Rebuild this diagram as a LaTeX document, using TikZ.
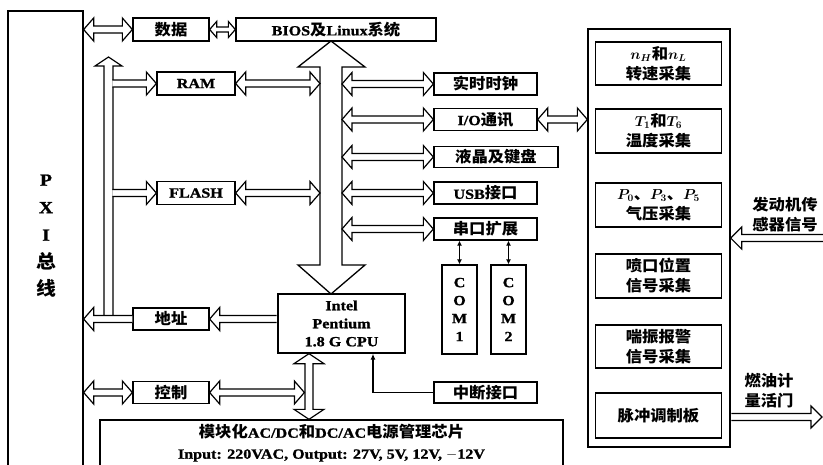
\documentclass[tikz,border=0pt]{standalone}
\usepackage{fontspec}
\setmainfont{Liberation Serif}[FakeStretch=1.15, BoldFeatures={FakeBold=1.2}]
\newfontfamily\cjk{Noto Sans CJK SC}[Scale=1.1, FakeStretch=1.06]
\usetikzlibrary{arrows.meta,calc}
\newcommand\zh[1]{{\cjk #1}}
\begin{document}
\begin{tikzpicture}[x=1pt,y=-1pt,
  every node/.style={font=\bfseries\boldmath\fontsize{14}{16}\selectfont},
  box/.style={draw, line width=1.3pt, inner sep=0pt, align=center, fill=white},
  ahl/.store in=\ahl, ahw/.store in=\ahw, asw/.store in=\asw,
  ahl=10pt, ahw=11.5pt, asw=3.5pt,
  sarr/.style={draw, line width=1.2pt, fill=white, line join=miter, to path={
    ($(\tikztostart)!\asw!90:(\tikztotarget)$)
    -- ($(\tikztotarget)!\ahl!(\tikztostart)!\asw!90:(\tikztotarget)$)
    -- ($(\tikztotarget)!\ahl!(\tikztostart)!\ahw!90:(\tikztotarget)$)
    -- (\tikztotarget)
    -- ($(\tikztotarget)!\ahl!(\tikztostart)!\ahw!-90:(\tikztotarget)$)
    -- ($(\tikztotarget)!\ahl!(\tikztostart)!\asw!-90:(\tikztotarget)$)
    -- ($(\tikztostart)!\asw!-90:(\tikztotarget)$)}},
  darr/.style={draw, line width=1.2pt, fill=white, line join=miter, to path={
    (\tikztostart)
    -- ($(\tikztostart)!\ahl!(\tikztotarget)!\ahw!90:(\tikztotarget)$)
    -- ($(\tikztostart)!\ahl!(\tikztotarget)!\asw!90:(\tikztotarget)$)
    -- ($(\tikztotarget)!\ahl!(\tikztostart)!\asw!90:(\tikztotarget)$)
    -- ($(\tikztotarget)!\ahl!(\tikztostart)!\ahw!90:(\tikztotarget)$)
    -- (\tikztotarget)
    -- ($(\tikztotarget)!\ahl!(\tikztostart)!\ahw!-90:(\tikztotarget)$)
    -- ($(\tikztotarget)!\ahl!(\tikztostart)!\asw!-90:(\tikztotarget)$)
    -- ($(\tikztostart)!\ahl!(\tikztotarget)!\asw!-90:(\tikztotarget)$)
    -- ($(\tikztostart)!\ahl!(\tikztotarget)!\ahw!-90:(\tikztotarget)$)
    -- cycle}},
  thinarr/.style={line width=1.2pt},
  bigarr/.style={draw, line width=1.3pt, fill=white, line join=miter}
]
\useasboundingbox[fill=white] (0,0) rectangle (823,464);

% PXI bus
\node[box, minimum width=75pt, minimum height=460pt] (pxi) at (45.5,241) {};
\node[align=center, font=\bfseries\fontsize{17}{27.5}\selectfont] (pxit) at (46,236) {P\\X\\I\\\zh{总}\\\zh{线}};

% left boxes
\node[box, minimum width=76pt, minimum height=23pt] (data) at (171,29.5) {\zh{数据}};
\node[box, minimum width=200pt, minimum height=23pt] (bios) at (336,29.5) {BIOS\zh{及}Linux\zh{系统}};
\node[box, minimum width=78pt, minimum height=23pt] (ram) at (196,83.5) {RAM};
\node[box, minimum width=78pt, minimum height=23pt] (flash) at (196,193) {FLASH};
\node[box, minimum width=76pt, minimum height=22pt] (addr) at (171,319) {\zh{地址}};
\node[box, minimum width=76pt, minimum height=22pt] (ctrl) at (171,392.5) {\zh{控制}};
\node[box, minimum width=127pt, minimum height=59pt, font=\bfseries\fontsize{14}{18}\selectfont] (cpu) at (341.5,323.5) {Intel\\Pentium\\1.8 G CPU};
\node[box, minimum width=463pt, minimum height=46pt, font=\bfseries\fontsize{14}{21}\selectfont] (power) at (331.5,443) {\zh{模块化}AC/DC\zh{和}DC/AC\zh{电源管理芯片}\\Input: 220VAC, Output: 27V, 5V, 12V, $-$12V};

% right column
\node[box, minimum width=103pt, minimum height=22pt] (rtc) at (485.5,84) {\zh{实时时钟}};
\node[box, minimum width=103pt, minimum height=22pt] (io) at (485.5,119.5) {I/O\zh{通讯}};
\node[box, minimum width=124pt, minimum height=21pt] (lcd) at (496,157) {\zh{液晶及键盘}};
\node[box, minimum width=103pt, minimum height=22pt] (usb) at (485.5,193) {USB\zh{接口}};
\node[box, minimum width=103pt, minimum height=22pt] (serial) at (485.5,229) {\zh{串口扩展}};
\node[box, minimum width=35pt, minimum height=89pt, font=\bfseries\fontsize{14}{18}\selectfont] (com1) at (459.5,309.5) {C\\O\\M\\1};
\node[box, minimum width=35pt, minimum height=89pt, font=\bfseries\fontsize{14}{18}\selectfont] (com2) at (508.5,309.5) {C\\O\\M\\2};
\node[box, minimum width=103pt, minimum height=21pt] (irq) at (485.5,392.5) {\zh{中断接口}};

% right panel
\node[box, minimum width=142pt, minimum height=418pt] (panel) at (659,238) {};
\begin{scope}[every node/.append style={font=\bfseries\boldmath\fontsize{14}{20}\selectfont}]
\node[box, minimum width=126pt, minimum height=43pt] (s1) at (658.5,63.5) {$n_H$\zh{和}$n_L$\\\zh{转速采集}};
\node[box, minimum width=126pt, minimum height=44pt] (s2) at (658.5,131) {$T_1$\zh{和}$T_6$\\\zh{温度采集}};
\node[box, minimum width=126pt, minimum height=44pt] (s3) at (658.5,205) {$P_0$\zh{、}$P_3$\zh{、}$P_5$\\\zh{气压采集}};
\node[box, minimum width=126pt, minimum height=44pt] (s4) at (658.5,276) {\zh{喷口位置}\\\zh{信号采集}};
\node[box, minimum width=126pt, minimum height=43pt] (s5) at (658.5,346.5) {\zh{喘振报警}\\\zh{信号采集}};
\node[box, minimum width=126pt, minimum height=45pt] (s6) at (658.5,415.5) {\zh{脉冲调制板}};
\node[align=center] (sent) at (785,215) {\zh{发动机传}\\\zh{感器信号}};
\node[align=center] (fuelt) at (769,391) {\zh{燃油计}\\\zh{量活门}};
\end{scope}

% helper coordinates
\coordinate (busx) at (112.4,0);
\coordinate (bal) at (320,0);
\coordinate (bar) at (342,0);
\coordinate (pv) at (309,0);
\coordinate (pvl) at (304.4,0);
\coordinate (sen) at (826,238);
\coordinate (fuel) at (822,417);
\coordinate (bustop) at (108.5,57);
\coordinate (busbot) at (108.5,317);

% big central arrow
\draw[bigarr] (331,41) -- (365,67) -- (342,67) -- (342,265) -- (365,265) -- (331,294)
  -- (298,265) -- (320,265) -- (320,67) -- (298,67) -- cycle;

% bus arrow
\draw[sarr, asw=4.5pt, ahw=13.5pt, ahl=9pt] (busbot) to (bustop);

% connectors
\draw[darr] (data.west -| pxi.east) to (data.west);
\draw[darr, asw=2.5pt, ahw=8pt, ahl=7pt] (data.east) to (bios.west);
\draw[sarr] (ram.west -| busx) to (ram.west);
\draw[sarr] (flash.west -| busx) to (flash.west);
\draw[darr] (ram.east) to (ram.east -| bal);
\draw[darr] (flash.east) to (flash.east -| bal);
\draw[darr] (rtc.west -| bar) to (rtc.west);
\draw[darr] (io.west -| bar) to (io.west);
\draw[darr] (lcd.west -| bar) to (lcd.west);
\draw[darr] (usb.west -| bar) to (usb.west);
\draw[darr] (serial.west -| bar) to (serial.west);
\draw[darr] (io.east) to (io.east -| panel.west);
\draw[sarr] ([xshift=-0.65pt]cpu.west |- addr.east) to (addr.east);
\draw[sarr] (addr.west) to (addr.west -| pxi.east);
\draw[darr] (ctrl.west -| pxi.east) to (ctrl.west);
\draw[darr, asw=4pt, ahw=15pt, ahl=10pt] (cpu.south -| pv) to (power.north -| pv);
\draw[darr] (ctrl.east) to (ctrl.east -| pvl);
\draw[sarr, ahw=11pt, ahl=11pt] (sen) to (sen -| panel.east);
\draw[sarr, ahw=11pt, ahl=11pt] ([xshift=0.65pt]fuel -| panel.east) to (fuel);

\draw[thinarr, {Latex[length=5pt,width=5pt]}-{Latex[length=5pt,width=5pt]}] (serial.south -| com1.north) -- (com1.north);
\draw[thinarr, {Latex[length=5pt,width=5pt]}-{Latex[length=5pt,width=5pt]}] (serial.south -| com2.north) -- (com2.north);
\draw[thinarr, -{Latex[length=6pt,width=5pt]}] (irq.west) -| ([xshift=31.5pt]cpu.south);

\end{tikzpicture}
\end{document}
